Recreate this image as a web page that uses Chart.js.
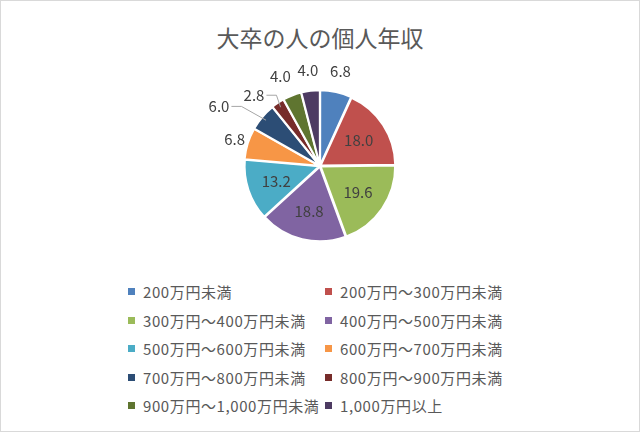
<!DOCTYPE html>
<html>
<head>
<meta charset="utf-8">
<script src="https://cdn.jsdelivr.net/npm/chart.js@4"></script>
<style>
  body { margin: 0; background: #fff; }
  #wrap { position: relative; width: 638px; height: 430px; border: 1px solid #d9d9d9; font-family: "Noto Sans CJK JP", sans-serif; }
  #title { position: absolute; top: 19px; width: 100%; text-align: center; font-size: 23px; color: #595959; }
  #chartBox { position: absolute; left: 0; top: 0; width: 638px; height: 270px; }
  #legend { position: absolute; left: 127px; top: 281px; display: grid; grid-template-columns: 197px 200px; row-gap: 9.5px; }
  .item { font-size: 15px; letter-spacing: 0.6px; color: #595959; height: 19px; line-height: 19px; display: flex; align-items: center; }
  .sw { width: 7px; height: 7px; margin-right: 8px; }
</style>
</head>
<body>
<div id="wrap">
  <div id="title">大卒の人の個人年収</div>
  <div id="chartBox"><canvas id="c"></canvas></div>
  <div id="legend"></div>
</div>
<script>
const categories = ['200万円未満', '200万円～300万円未満', '300万円～400万円未満', '400万円～500万円未満',
  '500万円～600万円未満', '600万円～700万円未満', '700万円～800万円未満', '800万円～900万円未満',
  '900万円～1,000万円未満', '1,000万円以上'];
const values = [6.8, 18.0, 19.6, 18.8, 13.2, 6.8, 6.0, 2.8, 4.0, 4.0];
const colors = ['#4F81BD', '#C0504D', '#9BBB59', '#8064A2', '#4BACC6', '#F79646', '#2C4D75', '#772C2A', '#5F7530', '#4D3B62'];

// labels for small slices sit outside, larger ones inside
const sliceLabels = {
  id: 'sliceLabels',
  afterDatasetsDraw(chart) {
    const ctx = chart.ctx;
    const meta = chart.getDatasetMeta(0);
    ctx.save();
    ctx.font = '15px "Noto Sans CJK JP", sans-serif';
    ctx.fillStyle = '#404040';
    ctx.textAlign = 'center';
    ctx.textBaseline = 'middle';
    meta.data.forEach((arc, i) => {
      const mid = (arc.startAngle + arc.endAngle) / 2;
      const r = arc.outerRadius;
      const text = values[i].toFixed(1);
      if (values[i] > 10) {
        ctx.fillText(text, arc.x + Math.cos(mid) * r * 0.62, arc.y + Math.sin(mid) * r * 0.62);
        return;
      }
      if (i === 6 || i === 7) {
        // leader-line labels pushed out to the left
        const sx = arc.x + Math.cos(mid) * r * 0.95, sy = arc.y + Math.sin(mid) * r * 0.95;
        const ex = i === 6 ? arc.x - r * 1.35 : arc.x - r * 0.88;
        const ey = i === 6 ? arc.y - r * 0.8 : arc.y - r * 0.95;
        ctx.strokeStyle = '#a6a6a6';
        ctx.lineWidth = 1;
        ctx.beginPath();
        ctx.moveTo(sx, sy);
        ctx.lineTo(ex + 22, ey);
        ctx.lineTo(ex + 12, ey);
        ctx.stroke();
        ctx.textAlign = 'right';
        ctx.fillText(text, ex + 10, ey);
        ctx.textAlign = 'center';
        return;
      }
      const k = i === 5 ? 1.2 : 1.3;
      ctx.fillText(text, arc.x + Math.cos(mid) * r * k + (i === 8 ? -4 : 0), arc.y + Math.sin(mid) * r * k);
    });
    ctx.restore();
  }
};

new Chart(document.getElementById('c'), {
  type: 'pie',
  data: {
    labels: categories,
    datasets: [{ data: values, backgroundColor: colors, borderColor: '#fff', borderWidth: 2, offset: 3 }]
  },
  options: {
    responsive: true,
    maintainAspectRatio: false,
    animation: false,
    layout: { padding: { top: 88, bottom: 28 } },
    plugins: { legend: { display: false }, tooltip: { enabled: false } }
  },
  plugins: [sliceLabels]
});

const legend = document.getElementById('legend');
categories.forEach((name, i) => {
  const d = document.createElement('div');
  d.className = 'item';
  d.innerHTML = `<span class="sw" style="background:${colors[i]}"></span>${name}`;
  legend.appendChild(d);
});
</script>
</body>
</html>
